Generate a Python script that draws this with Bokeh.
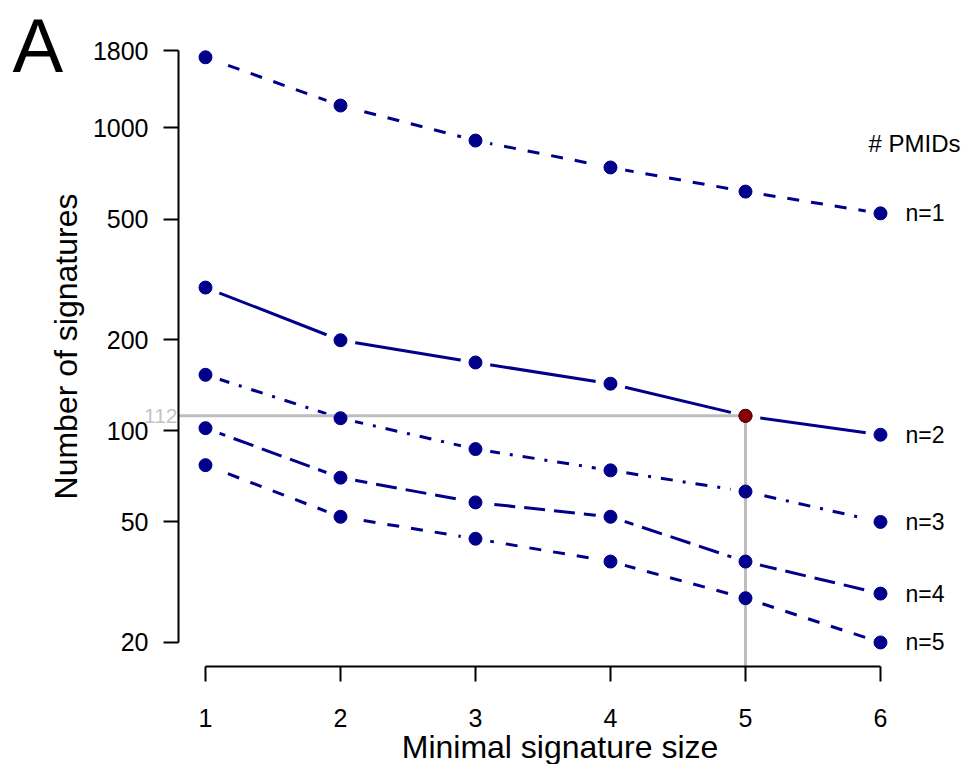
from bokeh.plotting import figure
from bokeh.models import (Range1d, FixedTicker, NumeralTickFormatter, Label,
                          LabelSet, ColumnDataSource, LinearAxis)
from bokeh.core.properties import value
from bokeh.embed import file_html
from bokeh.resources import INLINE

# ---- data -------------------------------------------------------------
sizes = [1, 2, 3, 4, 5, 6]
n1 = [1710, 1185, 908, 740, 616, 522]
n2 = [297, 199, 168, 143, 112, 97]
n3 = [153, 110, 87, 74, 63, 50]
n4 = [102, 70, 58, 52, 37, 29]
n5 = [77, 52, 44, 37, 28, 20]
series_names = ["n=1", "n=2", "n=3", "n=4", "n=5"]
y_ticks = [20, 50, 100, 200, 500, 1000, 1800]
x_ticks = [1, 2, 3, 4, 5, 6]
highlight_x = 5
highlight_y = 112

# ---- styling / layout -------------------------------------------------
FONT = "Liberation Sans"
BLUE = "#00008B"
GRAY = "#bebebe"
dashes = ["12 12", "solid", "3 10 12 10", "21 9", "12 12"]

# ranges span the whole canvas; axes are pinned inside with fixed_location
x_lo, x_hi = -0.5185, 6.689
y_lo, y_hi = 7.91, 2633
yaxis_at_x = 0.8
xaxis_at_y = 16.66

p = figure(width=973, height=764, x_range=Range1d(x_lo, x_hi),
           y_range=Range1d(y_lo, y_hi), y_axis_type="log",
           output_backend="svg", toolbar_location=None,
           min_border_left=0, min_border_right=0,
           min_border_top=0, min_border_bottom=0)
p.outline_line_color = None
p.xgrid.visible = False
p.ygrid.visible = False
p.background_fill_color = "white"
p.border_fill_color = "white"

all_series = [n1, n2, n3, n4, n5]

# lines
for vals, dash in zip(all_series, dashes):
    p.line(sizes, vals, line_color=BLUE, line_width=3, line_dash=dash)

# white halos (gap around points as in R type="b")
for vals in all_series:
    p.scatter(sizes, vals, size=30, fill_color="white", line_color=None)

# gray reference lines
p.segment(x0=[yaxis_at_x], y0=[highlight_y], x1=[highlight_x], y1=[highlight_y],
          line_color=GRAY, line_width=3)
p.segment(x0=[highlight_x], y0=[highlight_y], x1=[highlight_x], y1=[xaxis_at_y],
          line_color=GRAY, line_width=3)

# points
for vals in all_series:
    p.scatter(sizes, vals, size=13, fill_color=BLUE, line_color=BLUE)
p.scatter([highlight_x], [highlight_y], size=13, fill_color="#8B0000",
          line_color="#5c0000", line_width=1)

# axes
p.xaxis.ticker = FixedTicker(ticks=x_ticks)
p.yaxis.ticker = FixedTicker(ticks=y_ticks)
p.yaxis.formatter = NumeralTickFormatter(format="0")
p.xaxis.bounds = (min(x_ticks), max(x_ticks))
p.yaxis.bounds = (min(y_ticks), max(y_ticks))
p.xaxis.fixed_location = xaxis_at_y
p.yaxis.fixed_location = yaxis_at_x
for ax in (p.xaxis[0], p.yaxis[0]):
    ax.axis_line_width = 2
    ax.axis_line_color = "black"
    ax.major_tick_line_width = 2
    ax.major_tick_line_color = "black"
    ax.major_tick_out = 15
    ax.major_tick_in = 0
    ax.minor_tick_out = 0
    ax.minor_tick_in = 0
    ax.major_label_text_font = FONT
    ax.major_label_text_font_size = "25px"
    ax.major_label_text_color = "black"
    ax.axis_label_text_font = FONT
    ax.axis_label_text_font_size = "32px"
    ax.axis_label_text_font_style = "normal"
    ax.axis_label_text_color = "black"
p.yaxis.major_label_orientation = "horizontal"
p.yaxis.major_label_standoff = 15
p.yaxis.axis_label_standoff = 6
p.xaxis.major_label_standoff = 27
p.yaxis.axis_label = "Number of signatures"

# x title carried by a bare axis whose span is centred like the R plot region
title_axis = LinearAxis(fixed_location=xaxis_at_y, bounds=(1.126, 6.126),
                        ticker=FixedTicker(ticks=[]), axis_line_color=None,
                        major_tick_line_color=None, minor_tick_line_color=None,
                        major_tick_out=0, minor_tick_out=0,
                        axis_label="Minimal signature size",
                        axis_label_standoff=62,
                        axis_label_text_font=FONT,
                        axis_label_text_font_size="32px",
                        axis_label_text_font_style="normal",
                        axis_label_text_color="black")
p.add_layout(title_axis, "below")

# series labels at right
lab_src = ColumnDataSource(dict(x=[sizes[-1]] * 5,
                                y=[s[-1] for s in all_series],
                                text=series_names))
p.add_layout(LabelSet(x="x", y="y", text="text", source=lab_src,
                      x_offset=25, text_baseline="middle",
                      text_font=value(FONT), text_font_size=value("23px"),
                      text_color="black"))
p.add_layout(Label(x=sizes[-1], y=888, text="# PMIDs", x_offset=-12,
                   text_baseline="middle", text_font=FONT,
                   text_font_size="24px", text_color="black"))

# highlighted value on the axis
p.add_layout(Label(x=yaxis_at_x, y=highlight_y, text=str(highlight_y), x_offset=-1,
                   text_align="right", text_baseline="middle",
                   text_font=FONT, text_font_size="21px", text_color="#c4c4c4"))

# panel letter
p.add_layout(Label(x=-0.43, y=1489, y_offset=30, text="A",
                   text_baseline="alphabetic",
                   text_font=FONT, text_font_size="76px", text_color="black"))

open("out.html", "w").write(file_html(p, INLINE))
